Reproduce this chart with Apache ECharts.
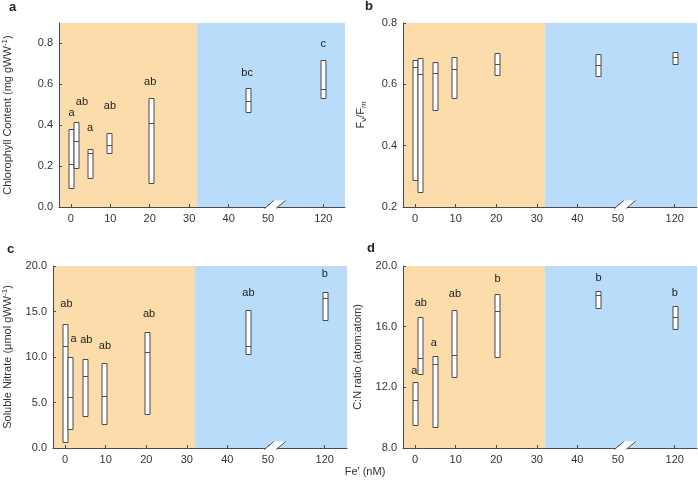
<!DOCTYPE html>
<html><head><meta charset="utf-8">
<script src="https://cdn.jsdelivr.net/npm/echarts@6/dist/echarts.min.js"></script>
<style>html,body{margin:0;padding:0;background:#fff}#c{width:698px;height:485px}</style>
</head><body><div id="c"></div>
<script>
// Fe' concentrations (nM)
const fe = [0, 1.25, 4.8, 9.6, 20.2, 45, 120];
// x tick labels
const xTicks = [0, 10, 20, 30, 40, 50, 120];

// Panel a: Chlorophyll content (mg gWW-1)
const chlLow  = [0.092, 0.193, 0.142, 0.265, 0.116, 0.466, 0.535];
const chlMed  = [0.208, 0.322, 0.265, 0.301, 0.409, 0.517, 0.579];
const chlHigh = [0.383, 0.417, 0.285, 0.363, 0.533, 0.584, 0.720];
const chlLabX = [0.2, 2.8, 4.9, 9.9, 20.1, 44.7, 120];
const chlLabY = [0.461, 0.514, 0.386, 0.494, 0.613, 0.658, 0.798];
const chlLabT = ['a', 'ab', 'a', 'ab', 'ab', 'bc', 'c'];

// Panel b: Fv/Fm
const fvLow  = [0.289, 0.249, 0.515, 0.555, 0.631, 0.628, 0.666];
const fvMed  = [0.656, 0.634, 0.636, 0.650, 0.667, 0.664, 0.689];
const fvHigh = [0.680, 0.686, 0.673, 0.690, 0.702, 0.699, 0.707];

// Panel c: Soluble nitrate (umol gWW-1)
const no3Low  = [0.66, 2.08, 3.50, 2.66, 3.76, 10.29, 14.02];
const no3Med  = [11.2, 5.58, 7.92, 5.73, 10.55, 11.17, 16.53];
const no3High = [13.6, 10.0, 9.82, 9.34, 12.78, 15.11, 17.16];
const no3LabX = [0.3, 2.1, 5.2, 9.8, 20.7, 45.2, 120];
const no3LabY = [15.84, 11.94, 11.86, 11.2, 14.7, 17.05, 19.1];
const no3LabT = ['ab', 'a', 'ab', 'ab', 'ab', 'ab', 'b'];

// Panel d: C:N ratio
const cnLow  = [9.53, 12.86, 9.38, 12.69, 13.98, 17.24, 15.84];
const cnMed  = [11.18, 13.93, 13.52, 14.11, 17.02, 18.12, 16.65];
const cnHigh = [12.38, 16.61, 14.04, 17.13, 18.16, 18.34, 17.33];
const cnLabX = [-0.2, 1.4, 4.6, 9.8, 20.3, 45.2, 120];
const cnLabY = [13.1, 17.57, 14.94, 18.14, 19.13, 19.21, 18.25];
const cnLabT = ['a', 'ab', 'a', 'ab', 'b', 'b', 'b'];

// broken x axis: 0..50 linear, 120 drawn at position 64
const BREAK_POS = 64;
function mapX(v) { return v > 50 ? BREAK_POS : v; }
const X_MIN = -3, X_MAX = 69.5, SPLIT = 32;

const ORANGE = '#FDDCAB', BLUE = '#B8DCFA', INK = '#4a4a4a', TXT = '#333';
const FONT = '"Liberation Sans", Arial, sans-serif';

const grids = [
  {left: 52, top: 23, width: 293, height: 184},
  {left: 403, top: 23, width: 294, height: 184},
  {left: 53, top: 266, width: 294, height: 182},
  {left: 403, top: 266, width: 294, height: 182}
];

const yDefs = [
  {min: 0, max: 0.9, ticks: [0, 0.2, 0.4, 0.6, 0.8], gap: 44,
   name: 'Chlorophyll Content (mg gWW{sup|-1})'},
  {min: 0.2, max: 0.8, ticks: [0.2, 0.4, 0.6, 0.8], gap: 35,
   name: 'F{sub|v}/F{subi|m}'},
  {min: 0, max: 20, ticks: [0, 5, 10, 15, 20], gap: 38,
   name: 'Soluble Nitrate (μmol gWW{sup|-1})'},
  {min: 8, max: 20, ticks: [8, 12, 16, 20], gap: 38,
   name: 'C:N ratio (atom:atom)'}
];

const panels = [
  {low: chlLow, med: chlMed, high: chlHigh, labX: chlLabX, labY: chlLabY, labT: chlLabT},
  {low: fvLow, med: fvMed, high: fvHigh, labX: [], labY: [], labT: []},
  {low: no3Low, med: no3Med, high: no3High, labX: no3LabX, labY: no3LabY, labT: no3LabT},
  {low: cnLow, med: cnMed, high: cnHigh, labX: cnLabX, labY: cnLabY, labT: cnLabT}
];

const xTickPos = xTicks.map(mapX);

const xAxes = grids.map((g, i) => ({
  type: 'value', gridIndex: i, min: X_MIN, max: X_MAX,
  axisLine: {show: true, onZero: false, lineStyle: {color: INK, width: 1}},
  axisTick: {show: true, inside: true, length: 3, lineStyle: {color: INK}, customValues: xTickPos},
  axisLabel: {customValues: xTickPos, color: TXT, fontSize: 11, fontFamily: FONT, margin: 6,
    formatter: v => (Math.abs(v - BREAK_POS) < 1e-6 ? '120' : String(Math.round(v)))},
  splitLine: {show: false}
}));

const yAxes = yDefs.map((d, i) => ({
  type: 'value', gridIndex: i, min: d.min, max: d.max,
  name: d.name, nameLocation: 'middle', nameGap: d.gap,
  nameTextStyle: {color: TXT, fontSize: 11, fontFamily: FONT, lineHeight: 14,
    rich: {
      sup: {fontSize: 8, verticalAlign: 'top', lineHeight: 8, color: TXT, fontFamily: FONT},
      sub: {fontSize: 8, verticalAlign: 'bottom', lineHeight: 8, color: TXT, fontFamily: FONT},
      subi: {fontSize: 8, verticalAlign: 'bottom', lineHeight: 8, color: TXT, fontFamily: FONT, fontStyle: 'italic'}
    }},
  axisLine: {show: true, onZero: false, lineStyle: {color: INK, width: 1}},
  axisTick: {show: true, inside: true, length: 3, lineStyle: {color: INK}, customValues: d.ticks},
  axisLabel: {customValues: d.ticks, color: TXT, fontSize: 11, fontFamily: FONT, margin: 6,
    formatter: v => v.toFixed(1)},
  splitLine: {show: false}
}));

const series = [];
panels.forEach((p, i) => {
  // background regions
  series.push({
    type: 'custom', xAxisIndex: i, yAxisIndex: i, z: -1, silent: true,
    data: [[X_MIN, SPLIT, 0], [SPLIT, X_MAX, 1]],
    renderItem: (params, api) => {
      const cs = params.coordSys;
      const a = api.coord([api.value(0), yDefs[i].min]);
      const b = api.coord([api.value(1), yDefs[i].min]);
      return {type: 'rect', shape: {x: a[0], y: cs.y, width: b[0] - a[0], height: cs.height},
        style: {fill: api.value(2) === 0 ? ORANGE : BLUE}};
    }
  });
  // boxes
  series.push({
    type: 'custom', xAxisIndex: i, yAxisIndex: i, z: 3, silent: true,
    data: fe.map((f, k) => [mapX(f), p.low[k], p.med[k], p.high[k]]),
    renderItem: (params, api) => {
      const x = api.value(0);
      const pl = api.coord([x, api.value(1)]);
      const pm = api.coord([x, api.value(2)]);
      const ph = api.coord([x, api.value(3)]);
      const w = 5;
      const cx = Math.round(pl[0]) + 0.5;
      return {type: 'group', children: [
        {type: 'rect', shape: {x: cx - w / 2, y: Math.round(ph[1]) + 0.5, width: w, height: Math.round(pl[1]) - Math.round(ph[1])},
          style: {fill: '#fff', stroke: INK, lineWidth: 1}},
        {type: 'line', shape: {x1: cx - w / 2, y1: Math.round(pm[1]) + 0.5, x2: cx + w / 2, y2: Math.round(pm[1]) + 0.5},
          style: {stroke: INK, lineWidth: 1}}
      ]};
    }
  });
  // significance letters
  if (p.labT.length) {
    series.push({
      type: 'custom', xAxisIndex: i, yAxisIndex: i, z: 4, silent: true,
      data: p.labX.map((x, k) => [mapX(x), p.labY[k], k]),
      renderItem: (params, api) => {
        const c = api.coord([api.value(0), api.value(1)]);
        return {type: 'text', x: c[0], y: c[1],
          style: {text: p.labT[api.value(2)], fill: '#222', fontSize: 11, fontFamily: FONT,
            align: 'center', verticalAlign: 'middle'}};
      }
    });
  }
  // axis break marks
  series.push({
    type: 'custom', xAxisIndex: i, yAxisIndex: i, z: 5, silent: true,
    data: [[50.3, 53.2]],
    renderItem: (params, api) => {
      const y0 = yDefs[i].min;
      const a = api.coord([api.value(0), y0]);
      const b = api.coord([api.value(1), y0]);
      const dx = 4.7, up = 6.5, dn = 1.5;
      return {type: 'group', children: [
        {type: 'polygon', shape: {points: [[a[0] - dx, a[1] + dn], [a[0] + dx, a[1] - up], [b[0] + dx, b[1] - up], [b[0] - dx, b[1] + dn]]},
          style: {fill: '#fff'}},
        {type: 'line', shape: {x1: a[0] - dx, y1: a[1] + dn, x2: a[0] + dx, y2: a[1] - up}, style: {stroke: INK, lineWidth: 1}},
        {type: 'line', shape: {x1: b[0] - dx, y1: b[1] + dn, x2: b[0] + dx, y2: b[1] - up}, style: {stroke: INK, lineWidth: 1}}
      ]};
    }
  });
});

const chart = echarts.init(document.getElementById('c'), null, {renderer: 'canvas'});
chart.setOption({
  animation: false,
  backgroundColor: '#fff',
  grid: grids.map(g => Object.assign({containLabel: false}, g)),
  xAxis: xAxes,
  yAxis: yAxes,
  series: series,
  graphic: [
    {type: 'text', left: 9, top: 1, style: {text: 'a', fontSize: 13, fontWeight: 'bold', fill: '#222', fontFamily: FONT}},
    {type: 'text', left: 365, top: 0, style: {text: 'b', fontSize: 13, fontWeight: 'bold', fill: '#222', fontFamily: FONT}},
    {type: 'text', left: 7, top: 243, style: {text: 'c', fontSize: 13, fontWeight: 'bold', fill: '#222', fontFamily: FONT}},
    {type: 'text', left: 367, top: 242, style: {text: 'd', fontSize: 13, fontWeight: 'bold', fill: '#222', fontFamily: FONT}},
    {type: 'text', x: 365, y: 472, style: {text: "Fe' (nM)", fontSize: 11, fill: TXT, fontFamily: FONT, align: 'center', verticalAlign: 'middle'}}
  ]
});
</script>
</body></html>
